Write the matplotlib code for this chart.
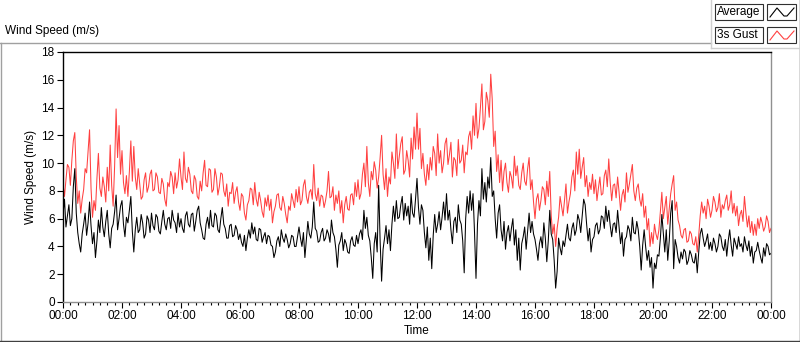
import matplotlib.pyplot as plt
from matplotlib.lines import Line2D
from matplotlib.patches import Rectangle
from matplotlib.ticker import MultipleLocator, FuncFormatter

# 3 second gust (m/s), one reading every 3 minutes, one row per hour
gust = (
    [8.5, 7.6, 8.8, 9.9, 9.7, 8.4, 10.2, 11.6, 12.2, 9.0, 7.1, 8.0, 6.4, 7.4, 8.1, 9.6, 9.3, 10.8, 12.4, 8.2]
    + [6.1, 7.3, 6.6, 8.9, 10.7, 8.2, 7.6, 9.0, 8.3, 7.2, 9.7, 8.0, 11.3, 8.4, 6.9, 9.8, 13.9, 10.4, 12.7, 9.2]
    + [10.9, 8.6, 7.8, 9.1, 7.6, 9.4, 11.6, 8.7, 11.2, 9.0, 8.1, 9.6, 8.5, 7.4, 7.6, 8.8, 9.3, 7.9, 8.3, 9.2]
    + [9.5, 8.0, 8.1, 9.3, 9.0, 7.9, 7.8, 8.9, 8.5, 7.4, 6.9, 8.6, 8.3, 9.4, 9.0, 7.8, 9.3, 8.2, 8.8, 10.3]
    + [9.0, 8.1, 10.8, 8.9, 8.6, 9.7, 9.2, 8.0, 7.8, 9.1, 8.8, 7.6, 7.4, 8.7, 8.0, 9.3, 10.2, 8.4, 8.3, 9.6]
    + [9.5, 7.9, 8.1, 9.6, 9.0, 7.7, 8.3, 9.3, 9.2, 8.0, 7.6, 8.5, 6.9, 7.9, 7.8, 8.6, 7.1, 7.9, 8.3, 7.2]
    + [6.6, 7.8, 7.6, 6.4, 5.9, 7.0, 7.3, 8.2, 8.1, 7.0, 8.6, 7.4, 6.9, 7.9, 7.3, 6.5, 6.1, 7.5, 6.9, 7.7]
    + [6.6, 7.4, 5.7, 6.5, 6.9, 7.7, 7.8, 6.8, 6.6, 7.6, 7.1, 6.3, 5.7, 6.9, 6.6, 7.8, 7.3, 6.8, 8.1, 7.2]
    + [8.3, 7.0, 7.3, 8.4, 8.8, 7.6, 7.1, 7.9, 8.1, 7.4, 9.9, 7.8, 7.3, 8.2, 6.9, 7.7, 7.6, 6.8, 7.3, 8.0]
    + [9.4, 7.5, 7.6, 8.3, 6.6, 7.7, 7.1, 8.0, 6.4, 7.3, 5.7, 7.0, 7.6, 6.7, 6.6, 7.7, 7.8, 7.0, 8.6, 7.6]
    + [8.8, 7.4, 7.8, 9.2, 10.0, 8.3, 11.2, 8.6, 7.6, 9.4, 8.8, 10.1, 9.5, 8.2, 9.0, 10.4, 12.0, 9.2, 8.1, 9.6]
    + [7.6, 9.0, 8.5, 10.8, 10.0, 8.9, 12.1, 9.6, 10.5, 11.4, 11.9, 9.2, 9.5, 10.9, 10.2, 9.0, 11.8, 10.3, 12.6, 11.0]
    + [13.6, 11.0, 12.5, 9.6, 10.7, 9.2, 8.4, 9.9, 8.8, 10.4, 9.5, 11.2, 10.7, 9.1, 12.1, 10.0, 10.9, 9.3, 10.0, 11.4]
    + [11.8, 9.9, 10.6, 11.5, 9.0, 10.4, 10.2, 9.1, 11.7, 10.0, 10.2, 11.3, 9.3, 10.8, 10.6, 11.9, 12.3, 11.0, 13.4, 12.0]
    + [14.3, 11.8, 12.5, 14.0, 15.7, 12.4, 13.0, 15.1, 14.5, 13.3, 16.4, 14.6, 11.2, 12.3, 9.4, 10.6, 8.6, 10.2, 8.0, 9.4]
    + [10.0, 8.6, 7.9, 9.4, 9.0, 8.2, 10.5, 9.1, 9.8, 8.4, 8.1, 9.3, 10.0, 8.7, 8.4, 9.6, 10.4, 8.1, 8.8, 7.2]
    + [6.0, 7.4, 7.8, 6.6, 7.3, 8.3, 8.1, 7.0, 8.7, 7.6, 9.4, 6.2, 4.9, 5.6, 4.0, 5.3, 6.1, 7.6, 6.9, 6.2]
    + [7.3, 8.5, 6.4, 7.2, 7.8, 9.0, 9.5, 8.0, 10.8, 9.2, 11.0, 8.9, 9.7, 10.4, 8.3, 9.1, 7.6, 8.6, 8.1, 9.2]
    + [7.8, 8.8, 7.3, 8.2, 9.0, 7.7, 7.8, 9.1, 9.5, 8.3, 10.3, 8.6, 7.3, 8.4, 8.5, 7.5, 9.0, 7.9, 6.6, 7.7]
    + [8.1, 7.2, 9.3, 7.9, 8.5, 9.2, 9.9, 8.0, 7.3, 8.2, 8.5, 7.4, 6.9, 7.8, 6.1, 6.9, 5.2, 6.0, 4.0, 5.0]
    + [4.2, 5.6, 4.9, 4.5, 5.2, 6.5, 7.9, 6.0, 6.8, 7.6, 5.6, 6.7, 7.8, 8.5, 9.1, 6.6, 7.2, 5.9, 5.5, 4.8]
    + [4.6, 5.2, 5.3, 4.3, 4.4, 5.1, 4.9, 4.2, 4.1, 4.7, 3.6, 4.8, 6.2, 7.2, 6.4, 6.9, 6.0, 7.4, 6.9, 6.1]
    + [6.6, 7.6, 7.2, 6.5, 6.8, 7.8, 6.1, 7.0, 6.7, 7.3, 7.7, 6.6, 7.0, 8.0, 6.4, 7.1, 6.2, 6.9, 5.5, 6.3]
    + [6.6, 5.8, 7.6, 6.4, 5.4, 6.2, 5.0, 5.8, 4.8, 5.6, 4.8, 6.0, 5.3, 6.1, 5.7, 5.1, 5.4, 6.2, 5.8, 5.0]
    + [5.3]
)

# average wind speed (m/s)
average = (
    [6.3, 7.4, 5.4, 6.2, 7.0, 5.5, 6.0, 8.3, 9.6, 6.4, 5.0, 4.2, 3.6, 4.9, 5.6, 6.4, 4.8, 5.7, 7.2, 5.5]
    + [4.2, 5.0, 3.2, 4.4, 5.9, 5.0, 6.8, 5.4, 4.7, 5.8, 6.6, 4.9, 3.9, 5.3, 5.6, 6.5, 7.7, 5.2, 6.0, 6.9]
    + [7.3, 5.6, 4.7, 6.1, 5.7, 6.6, 7.6, 5.1, 3.6, 5.2, 6.1, 5.0, 5.2, 6.3, 5.7, 4.6, 4.9, 6.2, 5.9, 5.0]
    + [6.4, 5.5, 5.2, 6.3, 6.1, 5.1, 4.9, 5.8, 6.6, 5.6, 5.2, 6.0, 6.1, 5.3, 6.6, 5.9, 5.7, 5.0, 6.4, 5.4]
    + [6.0, 5.3, 5.0, 6.2, 6.5, 5.6, 5.4, 6.3, 6.4, 5.1, 5.8, 6.6, 6.9, 5.7, 5.2, 4.6, 4.5, 5.6, 6.1, 5.3]
    + [6.6, 5.5, 5.4, 6.4, 6.2, 5.2, 5.0, 6.0, 6.8, 5.6, 5.3, 4.6, 4.6, 5.5, 5.6, 4.7, 4.8, 5.5, 5.2, 4.5]
    + [4.9, 4.3, 4.0, 4.8, 3.7, 4.6, 5.2, 4.6, 5.7, 4.9, 5.4, 4.5, 4.4, 5.3, 5.2, 4.3, 4.7, 5.0, 4.2, 4.8]
    + [4.7, 4.1, 4.0, 3.2, 3.6, 4.4, 4.7, 4.0, 5.2, 4.6, 4.3, 4.9, 4.5, 3.9, 4.2, 4.8, 4.7, 4.0, 4.0, 4.7]
    + [5.4, 4.6, 4.0, 5.0, 3.2, 4.5, 5.8, 4.9, 4.6, 5.4, 7.2, 5.3, 5.1, 4.3, 4.4, 5.0, 5.3, 4.4, 4.6, 5.2]
    + [4.9, 4.3, 5.9, 5.0, 4.7, 3.8, 2.5, 4.1, 4.4, 5.0, 3.7, 4.5, 4.2, 3.6, 3.5, 4.4, 4.7, 4.1, 4.0, 4.8]
    + [4.2, 4.9, 5.2, 4.5, 6.6, 5.3, 6.1, 4.8, 4.4, 3.2, 1.7, 4.2, 5.0, 3.6, 8.4, 4.4, 1.5, 3.8, 4.6, 5.5]
    + [4.2, 5.2, 3.7, 5.6, 6.9, 5.8, 7.3, 6.0, 6.1, 7.0, 7.6, 5.9, 7.1, 6.2, 6.9, 5.6, 7.8, 6.4, 6.1, 7.4]
    + [8.9, 6.8, 5.6, 7.0, 6.6, 5.0, 3.9, 5.4, 3.0, 4.6, 2.4, 4.8, 6.3, 5.0, 5.6, 6.5, 5.2, 6.1, 7.2, 5.9]
    + [7.8, 5.9, 6.6, 5.2, 4.2, 5.8, 6.1, 5.0, 7.0, 5.9, 5.6, 4.4, 2.1, 6.0, 7.6, 6.4, 8.0, 6.6, 7.8, 5.0]
    + [1.7, 5.6, 7.3, 6.2, 9.6, 7.4, 8.6, 7.2, 9.0, 8.2, 10.4, 7.6, 8.0, 6.0, 4.6, 6.4, 7.0, 5.2, 4.4, 5.8]
    + [3.8, 5.0, 5.5, 4.4, 5.3, 6.0, 4.1, 5.2, 3.0, 4.6, 2.3, 4.2, 4.7, 5.4, 3.8, 5.1, 6.4, 5.0, 5.8, 4.9]
    + [4.5, 3.8, 3.0, 4.2, 4.7, 3.9, 5.7, 4.6, 2.9, 4.4, 6.6, 4.9, 4.5, 3.0, 1.0, 2.2, 4.6, 3.9, 3.4, 4.4]
    + [4.0, 4.8, 5.6, 4.6, 4.4, 5.3, 5.7, 4.8, 5.2, 6.3, 5.9, 5.0, 6.2, 7.4, 7.0, 5.6, 4.4, 5.3, 3.6, 4.5]
    + [4.7, 5.5, 5.7, 4.9, 5.2, 6.2, 6.1, 5.3, 6.9, 5.8, 6.6, 5.5, 4.7, 5.6, 5.7, 5.0, 6.6, 5.4, 4.2, 5.0]
    + [3.3, 4.5, 4.7, 5.5, 5.2, 4.4, 6.1, 5.0, 4.9, 5.8, 5.2, 4.0, 2.3, 4.1, 5.2, 4.0, 3.0, 3.7, 2.5, 3.2]
    + [1.0, 2.8, 2.4, 3.4, 3.3, 4.6, 6.3, 4.9, 3.6, 5.2, 3.0, 4.4, 6.4, 7.3, 2.4, 4.5, 4.0, 3.2, 2.8, 3.6]
    + [3.1, 3.8, 3.6, 2.7, 3.0, 3.7, 3.4, 2.9, 2.8, 3.5, 2.1, 3.6, 4.9, 5.3, 4.6, 4.0, 4.4, 4.9, 3.8, 4.3]
    + [3.7, 4.6, 4.2, 3.6, 4.0, 4.9, 4.7, 4.0, 3.7, 4.5, 3.3, 4.4, 5.2, 4.1, 3.3, 4.6, 4.2, 3.8, 4.7, 4.0]
    + [4.2, 3.6, 4.7, 4.1, 3.7, 4.4, 3.3, 4.0, 2.8, 3.6, 3.7, 4.3, 3.7, 3.2, 2.8, 3.9, 3.3, 4.2, 4.0, 3.4]
    + [3.5]
)

# hours since midnight
hours = [i * 0.05 for i in range(len(gust))]
assert len(gust) == len(average) == 481

series_names = ["Average", "3s Gust"]
series_colors = ["black", "#ff4040"]

plt.rcParams["font.family"] = ["Liberation Sans", "DejaVu Sans"]
plt.rcParams["font.size"] = 8.5

W, H = 800, 342
fig = plt.figure(figsize=(W / 100, H / 100), dpi=100)


def fx(px):
    return px / W


def fy(py):
    return 1 - py / H


# outer frame of the graph panel
gray = "#a0a0a0"
fig.add_artist(Line2D([fx(0.5), fx(0.5)], [fy(43), fy(341)], color=gray, lw=1))
fig.add_artist(Line2D([fx(0), fx(711)], [fy(43), fy(43)], color=gray, lw=1))
fig.add_artist(Line2D([fx(0), fx(799.5)], [fy(340.5), fy(340.5)], color="#404040", lw=1))
fig.add_artist(Line2D([fx(799.5), fx(799.5)], [fy(0), fy(341)], color="#404040", lw=1))
fig.add_artist(Line2D([fx(711), fx(711)], [fy(0), fy(48)], color="#d0d0d0", lw=1))
fig.add_artist(Line2D([fx(711), fx(799)], [fy(48), fy(48)], color="#d0d0d0", lw=1))

fig.text(fx(5), fy(31), "Wind Speed (m/s)", va="center", ha="left", fontsize=8.5)

# legend: name box + sample line box per series
for i, (name, col) in enumerate(zip(series_names, series_colors)):
    top = 4 + i * 23
    fig.add_artist(Rectangle((fx(715), fy(top + 16)), fx(48), 16 / H,
                             facecolor="white", edgecolor="#303030", lw=0.8))
    fig.text(fx(717), fy(top + 8), name, va="center", ha="left", fontsize=8.5)
    fig.add_artist(Rectangle((fx(767), fy(top + 16)), fx(29), 16 / H,
                             facecolor="white", edgecolor="#303030", lw=0.8))
    fig.add_artist(Line2D([fx(v) for v in [770, 777, 784, 787, 794]],
                          [fy(v) for v in [top + 13, top + 4, top + 12, top + 12, top + 4]],
                          color=col, lw=0.8))

ax = fig.add_axes([fx(63), 1 - 302 / H, fx(771) - fx(63), 250 / H])
ax.plot(hours, gust, color=series_colors[1], lw=0.75)
ax.plot(hours, average, color=series_colors[0], lw=0.75)

ax.set_xlim(0, 24)
ax.set_ylim(0, 18)
ax.xaxis.set_major_locator(MultipleLocator(2))
ax.xaxis.set_minor_locator(MultipleLocator(0.25))
ax.xaxis.set_major_formatter(FuncFormatter(lambda v, p: "%02d:00" % (int(round(v)) % 24)))
ax.yaxis.set_major_locator(MultipleLocator(2))
ax.tick_params(axis="both", which="major", length=4, width=0.8, labelsize=8.5, pad=2)
ax.tick_params(axis="x", which="minor", length=2, width=0.8)
ax.set_xlabel("Time", fontsize=8.5, labelpad=2)
ax.set_ylabel("Wind Speed (m/s)", fontsize=8.5, labelpad=3)

for side in ["top", "left"]:
    ax.spines[side].set_color("black")
for side in ["bottom", "right"]:
    ax.spines[side].set_color("#909090")
for s in ax.spines.values():
    s.set_linewidth(1)

fig.savefig("out.png", dpi=100)
